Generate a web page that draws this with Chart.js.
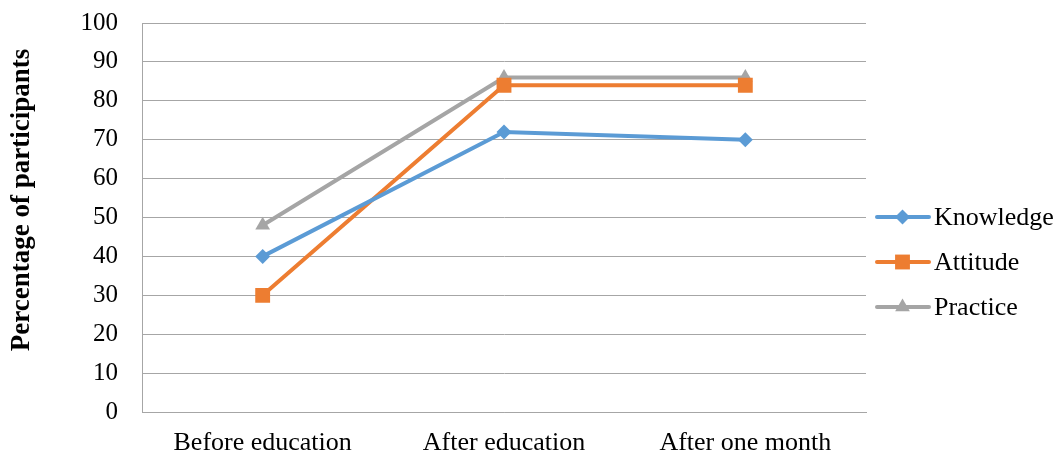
<!DOCTYPE html>
<html>
<head>
<meta charset="utf-8">
<script src="https://cdn.jsdelivr.net/npm/chart.js@4/dist/chart.umd.min.js"></script>
<style>
html,body{margin:0;padding:0;background:#fff;}
#wrap{width:1057px;height:454px;position:relative;}
</style>
</head>
<body>
<div id="wrap"><canvas id="c" width="1057" height="454"></canvas></div>
<script>
const categories = ["Before education", "After education", "After one month"];
const knowledge = [40, 72, 70];
const attitude = [30, 84, 84];
const practice = [48, 86, 86];
const yTicks = [0, 10, 20, 30, 40, 50, 60, 70, 80, 90, 100];
const seriesNames = ["Knowledge", "Attitude", "Practice"];
const yTitle = "Percentage of participants";

const FONT = "'Liberation Serif', 'Times New Roman', serif";
const colors = ["#5B9BD5", "#ED7D31", "#A5A5A5"];
const styles = ["rectRot", "rect", "triangle"];
const radii = [7.5, 10.5, 8.5];

function drawMarker(ctx, style, r, x, y, color) {
  ctx.save();
  ctx.fillStyle = color;
  ctx.beginPath();
  if (style === "rectRot") {
    ctx.moveTo(x - r, y); ctx.lineTo(x, y - r); ctx.lineTo(x + r, y); ctx.lineTo(x, y + r);
  } else if (style === "rect") {
    const s = r * Math.SQRT1_2;
    ctx.rect(x - s, y - s, 2 * s, 2 * s);
  } else {
    ctx.moveTo(x, y - r);
    ctx.lineTo(x + r * Math.cos(Math.PI / 6), y + r / 2);
    ctx.lineTo(x - r * Math.cos(Math.PI / 6), y + r / 2);
  }
  ctx.closePath();
  ctx.fill();
  ctx.restore();
}

const extras = {
  id: "extras",
  afterDraw(chart) {
    const ctx = chart.ctx;
    const names = chart.data.datasets.map(d => d.label);
    const cy = 262;
    const gap = 45;
    ctx.save();
    names.forEach((n, i) => {
      const y = cy + (i - 1) * gap;
      ctx.strokeStyle = colors[i];
      ctx.lineWidth = 4;
      ctx.lineCap = "round";
      ctx.beginPath();
      ctx.moveTo(877, y); ctx.lineTo(929, y); ctx.stroke();
      drawMarker(ctx, styles[i], radii[i], 902.5, y, colors[i]);
      ctx.fillStyle = "#000";
      ctx.font = "26px " + FONT;
      ctx.textBaseline = "middle";
      ctx.textAlign = "left";
      ctx.fillText(n, 934, y + 1);
    });
    ctx.translate(22, 200);
    ctx.rotate(-Math.PI / 2);
    ctx.font = "bold 27px " + FONT;
    ctx.textAlign = "center";
    ctx.textBaseline = "middle";
    ctx.fillText(yTitle, 0, 0);
    ctx.restore();
  }
};

const datasets = [knowledge, attitude, practice].map((vals, i) => ({
  label: seriesNames[i],
  data: vals,
  borderColor: colors[i],
  backgroundColor: colors[i],
  borderWidth: 4,
  pointStyle: styles[i],
  pointRadius: radii[i],
  pointHoverRadius: radii[i],
  pointBorderWidth: 0,
  tension: 0
}));

new Chart(document.getElementById("c"), {
  type: "line",
  data: { labels: categories, datasets },
  options: {
    responsive: false,
    animation: false,
    layout: { padding: { top: 23, right: 191, bottom: 0, left: 0 } },
    plugins: { legend: { display: false }, tooltip: { enabled: false } },
    scales: {
      x: {
        offset: true,
        grid: { display: false, drawTicks: false },
        border: { display: true, color: "#A6A6A6", width: 1 },
        ticks: { color: "#000", font: { family: FONT, size: 26, lineHeight: 1.2 }, padding: 16, maxRotation: 0 },
        afterFit(s) { s.height = 42; s.paddingLeft = 0; s.paddingRight = 0; s.paddingTop = 0; s.paddingBottom = 0; }
      },
      y: {
        min: 0, max: 100,
        afterBuildTicks(s) { s.ticks = yTicks.map(v => ({ value: v })); },
        grid: { color: "#A6A6A6", lineWidth: 1, drawTicks: false },
        border: { display: true, color: "#A6A6A6", width: 1 },
        ticks: { color: "#000", font: { family: FONT, size: 25, lineHeight: 1.2 }, padding: 24 },
        afterFit(s) { s.width = 142; s.paddingTop = 0; s.paddingBottom = 0; s.paddingLeft = 0; s.paddingRight = 0; }
      }
    }
  },
  plugins: [extras]
});
</script>
</body>
</html>
